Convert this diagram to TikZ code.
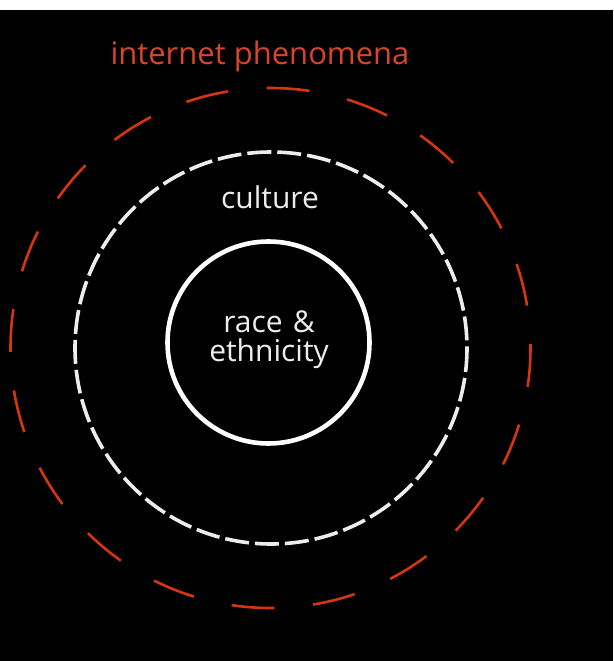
\documentclass[tikz,border=0pt]{standalone}
\usepackage{fontspec}
\setmainfont{Open Sans}
\definecolor{ringred}{HTML}{D5360E}
\definecolor{labelred}{HTML}{D8452A}
\definecolor{softwhite}{HTML}{EDEDED}
\begin{document}
\begin{tikzpicture}[x=1pt,y=-1pt,
  outerring/.style={draw=ringred,line width=2.6pt,dash pattern=on 43pt off 38.7pt,dash phase=4pt},
  midring/.style={draw=softwhite,line width=3.6pt,dash pattern=on 24pt off 6pt},
  innerring/.style={draw=white,line width=4.6pt},
  ringlabel/.style={text=softwhite,font=\fontsize{30}{29}\selectfont,align=center,inner sep=0pt},
  titlelabel/.style={text=labelred,font=\fontsize{31}{31}\selectfont,inner sep=0pt}]
  \useasboundingbox (0,0) rectangle (613,661);
  % page background: thin white strip above, black field below
  \fill[white] (0,0) rectangle (613,10);
  \fill[black] (0,10) rectangle (613,661);
  % three nested rings
  \path[outerring] (270.5,348) circle[radius=260];
  \path[midring] (271,348) circle[radius=196];
  \path[innerring] (268.5,342.5) circle[radius=101];
  % labels
  \node[titlelabel] (title) at (260,56) {internet phenomena};
  \node[ringlabel] (culture) at (270,197) {culture};
  \node[ringlabel,text width=200pt] (race) at (269,340) {race \&\\ethnicity};
\end{tikzpicture}
\end{document}
